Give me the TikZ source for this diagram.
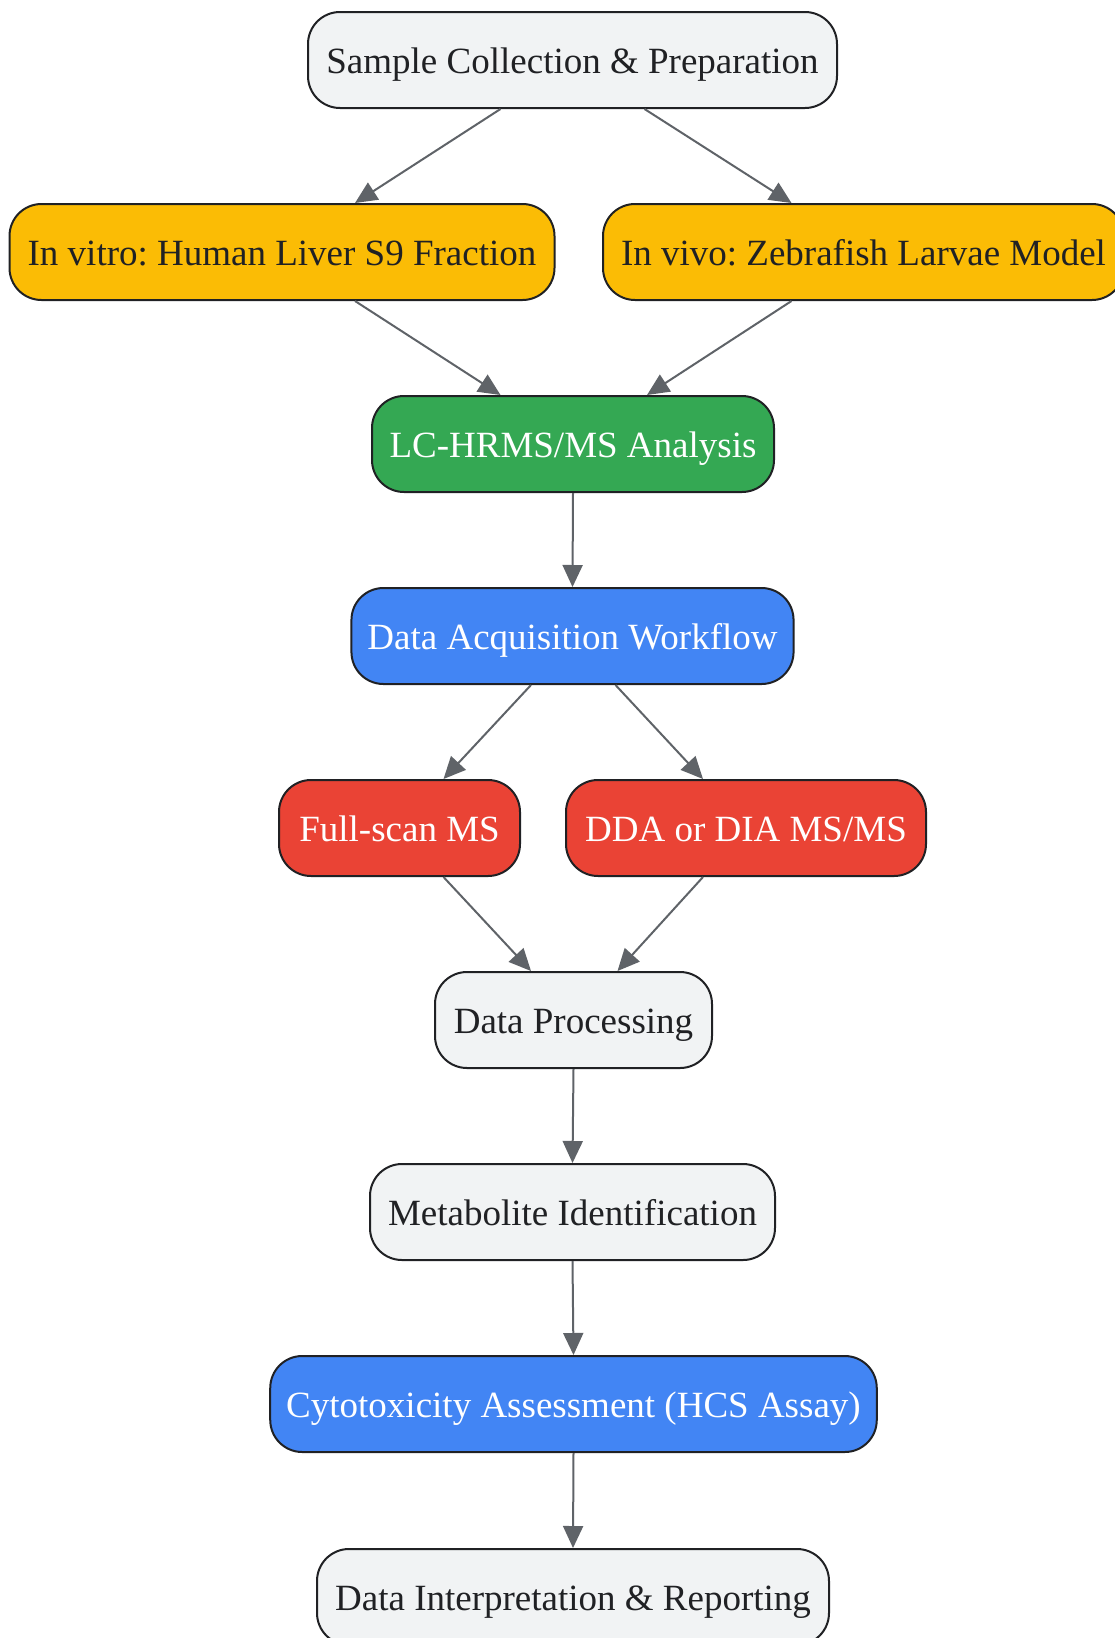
\documentclass[tikz,border=0pt]{standalone}
\usepackage{fontspec}
\setmainfont{Liberation Serif}
\usetikzlibrary{arrows.meta}
\definecolor{gfill}{HTML}{F1F3F4}
\definecolor{gline}{HTML}{202124}
\definecolor{garrow}{HTML}{5F6368}
\definecolor{gyellow}{HTML}{FBBC05}
\definecolor{ggreen}{HTML}{34A853}
\definecolor{gblue}{HTML}{4285F4}
\definecolor{gred}{HTML}{EA4335}
\frenchspacing
\tikzset{
  box/.style={draw=gline, line width=2pt, rounded corners=32pt, minimum height=96pt,
    inner xsep=16pt, inner ysep=0pt, text height=27pt, text depth=0pt, text=gline,
    font=\fontsize{37}{44}\selectfont\frenchspacing, anchor=center},
  graybox/.style={box, fill=gfill},
  yellowbox/.style={box, fill=gyellow},
  greenbox/.style={box, fill=ggreen, text=white},
  bluebox/.style={box, fill=gblue, text=white},
  redbox/.style={box, fill=gred, text=white},
  arr/.style={draw=garrow, line width=2pt, -{Triangle[length=22pt,width=20pt]}, color=garrow}
}
\begin{document}
\begin{tikzpicture}[x=1pt,y=-1pt]
\useasboundingbox (0,0) rectangle (1115,1638);
\node[graybox, minimum width=529pt] (s) at (572.5,60) {Sample Collection \& Preparation};
\node[yellowbox, minimum width=545pt] (vitro) at (282,252) {In vitro: Human Liver S9 Fraction};
\node[yellowbox, minimum width=521pt] (vivo) at (863.5,252) {In vivo: Zebrafish Larvae Model};
\node[greenbox, minimum width=402pt] (lc) at (573,444) {LC-HRMS/MS Analysis};
\node[bluebox, minimum width=441pt] (da) at (572.5,636) {Data Acquisition Workflow};
\node[redbox, minimum width=241pt] (fs) at (399.5,828) {Full-scan MS};
\node[redbox, minimum width=360pt] (dda) at (746,828) {DDA or DIA MS/MS};
\node[graybox, minimum width=277pt] (dp) at (573.5,1020) {Data Processing};
\node[graybox, minimum width=405pt] (met) at (572.5,1212) {Metabolite Identification};
\node[bluebox, minimum width=603pt] (cy) at (573.5,1404) {Cytotoxicity Assessment (HCS Assay)};
\node[graybox, minimum width=512pt] (di) at (573,1597) {Data Interpretation \& Reporting};

\draw[arr] ([xshift=-72pt]s.south) -- ([xshift=73pt]vitro.north);
\draw[arr] ([xshift=72pt]s.south) -- ([xshift=-72pt]vivo.north);
\draw[arr] ([xshift=73pt]vitro.south) -- ([xshift=-72.5pt]lc.north);
\draw[arr] ([xshift=-72pt]vivo.south) -- ([xshift=74pt]lc.north);
\draw[arr] (lc.south) -- (da.north);
\draw[arr] ([xshift=-41.5pt]da.south) -- ([xshift=44pt]fs.north);
\draw[arr] ([xshift=43pt]da.south) -- ([xshift=-43pt]dda.north);
\draw[arr] ([xshift=44pt]fs.south) -- ([xshift=-42.5pt]dp.north);
\draw[arr] ([xshift=-43pt]dda.south) -- ([xshift=44pt]dp.north);
\draw[arr] (dp.south) -- (met.north);
\draw[arr] (met.south) -- (cy.north);
\draw[arr] (cy.south) -- (di.north);
\end{tikzpicture}
\end{document}
